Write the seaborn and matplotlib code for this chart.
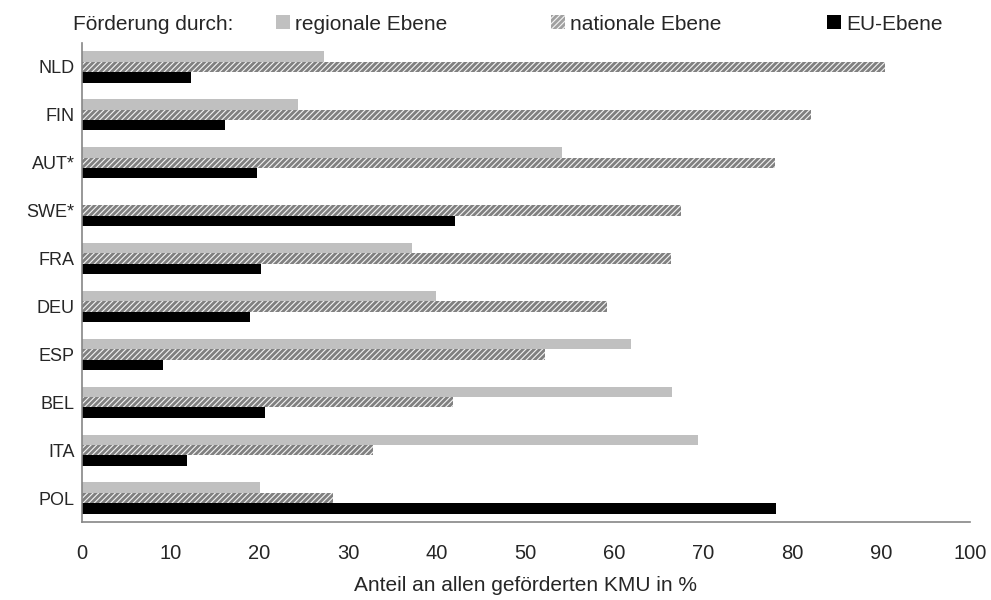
import pandas as pd
import numpy as np
import matplotlib
matplotlib.use("Agg")
import matplotlib.pyplot as plt
import seaborn as sns
from matplotlib.patches import Patch

# ===== DATA =====
countries = ['NLD', 'FIN', 'AUT*', 'SWE*', 'FRA', 'DEU', 'ESP', 'BEL', 'ITA', 'POL']
regional = [27.3, 24.4, 54.1, 0.0, 37.2, 39.9, 61.8, 66.5, 69.4, 20.1]
national = [90.4, 82.1, 78.1, 67.5, 66.3, 59.1, 52.2, 41.8, 32.8, 28.3]
eu_level = [12.3, 16.1, 19.7, 42.0, 20.2, 19.0, 9.2, 20.6, 11.8, 78.2]
levels = ['regionale Ebene', 'nationale Ebene', 'EU-Ebene']
xticks = list(range(0, 101, 10))

df = pd.DataFrame({
    'country': countries * 3,
    'level': [levels[0]] * 10 + [levels[1]] * 10 + [levels[2]] * 10,
    'value': regional + national + eu_level,
})

# ===== STYLE =====
sns.set_style("white")
plt.rcParams['font.family'] = ['Liberation Sans', 'DejaVu Sans']
plt.rcParams['hatch.linewidth'] = 2.0
plt.rcParams['hatch.color'] = '#808080'

axis_gray = '#868686'
colors = {levels[0]: '#c0c0c0', levels[1]: '#f2f2f2', levels[2]: '#000000'}

fig = plt.figure(figsize=(9.91, 6.0), dpi=100)
ax = fig.add_axes([81.7 / 991, 1 - 522 / 600, (970 - 81.7) / 991, (522 - 43) / 600])

sns.barplot(data=df, x='value', y='country', hue='level', hue_order=levels,
            order=countries, palette=colors, orient='h', width=0.65,
            linewidth=0, legend=False, ax=ax)

# hatch the national bars
for bar in ax.containers[1]:
    bar.set_hatch('//////')
    bar.set_edgecolor('#808080')
    bar.set_linewidth(0)

ax.set_xlim(0, 100)
ax.set_xticks(xticks)
ax.set_xlabel('Anteil an allen geförderten KMU in %', fontsize=15, labelpad=9)
ax.set_ylabel('')
ax.tick_params(axis='x', length=5, color=axis_gray, labelsize=14.5, pad=11)
ax.tick_params(axis='y', length=0, labelsize=13, pad=5)

sns.despine(ax=ax)
for s in ['left', 'bottom']:
    ax.spines[s].set_color(axis_gray)
    ax.spines[s].set_linewidth(1.2)

# ===== LEGEND =====
fig.text(233 / 991, 1 - 24 / 600, 'Förderung durch:', fontsize=15, va='center', ha='right')
handles = [
    Patch(facecolor=colors[levels[0]], edgecolor='none', label=levels[0]),
    Patch(facecolor='#f2f2f2', edgecolor='#a0a0a0', hatch='//////', linewidth=0, label=levels[1]),
    Patch(facecolor=colors[levels[2]], edgecolor='none', label=levels[2]),
]
for h, xpos in zip(handles, [276, 551, 827]):
    fig.legend(handles=[h], loc='center left', bbox_to_anchor=(xpos / 991, 1 - 24 / 600),
               frameon=False, fontsize=15, borderpad=0, borderaxespad=0,
               handlelength=0.65, handleheight=0.65, handletextpad=0.25)

fig.savefig('out.png', dpi=100)
